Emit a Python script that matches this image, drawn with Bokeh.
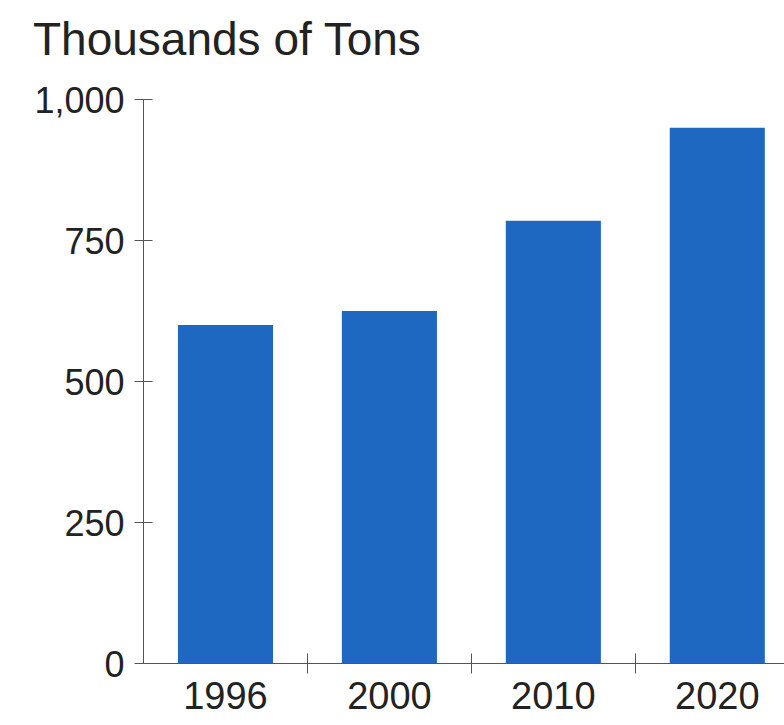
from bokeh.plotting import figure
from bokeh.models import FixedTicker, Range1d, Div
from bokeh.layouts import column
from bokeh.embed import file_html
from bokeh.resources import INLINE

years = ["1996", "2000", "2010", "2020"]
tons = [600, 625, 785, 950]
y_ticks = [0, 250, 500, 750, 1000]
y_tick_labels = ["0", "250", "500", "750", "1,000"]
title_text = "Thousands of Tons"

positions = [i + 0.5 for i in range(len(years))]
boundaries = [i + 1 for i in range(len(years) - 1)]

FONT = "Liberation Sans"
AXIS_COLOR = "#555555"
TEXT_COLOR = "#222222"

TITLE_H = 70

header = Div(text=title_text, width=784, height=TITLE_H, margin=(0, 0, 0, 0),
             styles={"font-family": FONT, "font-size": "46px", "color": TEXT_COLOR,
                     "line-height": "46px", "padding-left": "33px", "padding-top": "16px",
                     "white-space": "nowrap"})

p = figure(width=784, height=725 - TITLE_H, output_backend="svg", toolbar_location=None,
           x_range=Range1d(0, 3.91), y_range=Range1d(0, 1000),
           min_border_left=143, min_border_right=0, min_border_top=99 - TITLE_H,
           min_border_bottom=62, margin=(0, 0, 0, 0))
p.outline_line_color = None
p.grid.visible = False

p.vbar(x=positions, top=tons, width=0.58, bottom=0, color="#1f68c1", line_color=None)

xa = p.xaxis[0]
xa.ticker = FixedTicker(ticks=positions, minor_ticks=boundaries)
xa.major_label_overrides = {pos: y for pos, y in zip(positions, years)}
xa.major_tick_line_color = None
xa.minor_tick_in = 10
xa.minor_tick_out = 10
xa.minor_tick_line_color = AXIS_COLOR
xa.axis_line_color = AXIS_COLOR
xa.major_label_text_font = FONT
xa.major_label_text_font_size = "38px"
xa.major_label_text_color = TEXT_COLOR
xa.major_label_standoff = 8

ya = p.yaxis[0]
ya.ticker = FixedTicker(ticks=y_ticks)
ya.major_label_overrides = {v: s for v, s in zip(y_ticks, y_tick_labels)}
ya.major_tick_in = 9
ya.major_tick_out = 9
ya.minor_tick_line_color = None
ya.major_tick_line_color = AXIS_COLOR
ya.axis_line_color = AXIS_COLOR
ya.major_label_text_font = FONT
ya.major_label_text_font_size = "36px"
ya.major_label_text_color = TEXT_COLOR
ya.major_label_standoff = 10

layout = column(header, p, spacing=0, margin=(0, 0, 0, 0))

open("out.html", "w").write(file_html(layout, INLINE))
